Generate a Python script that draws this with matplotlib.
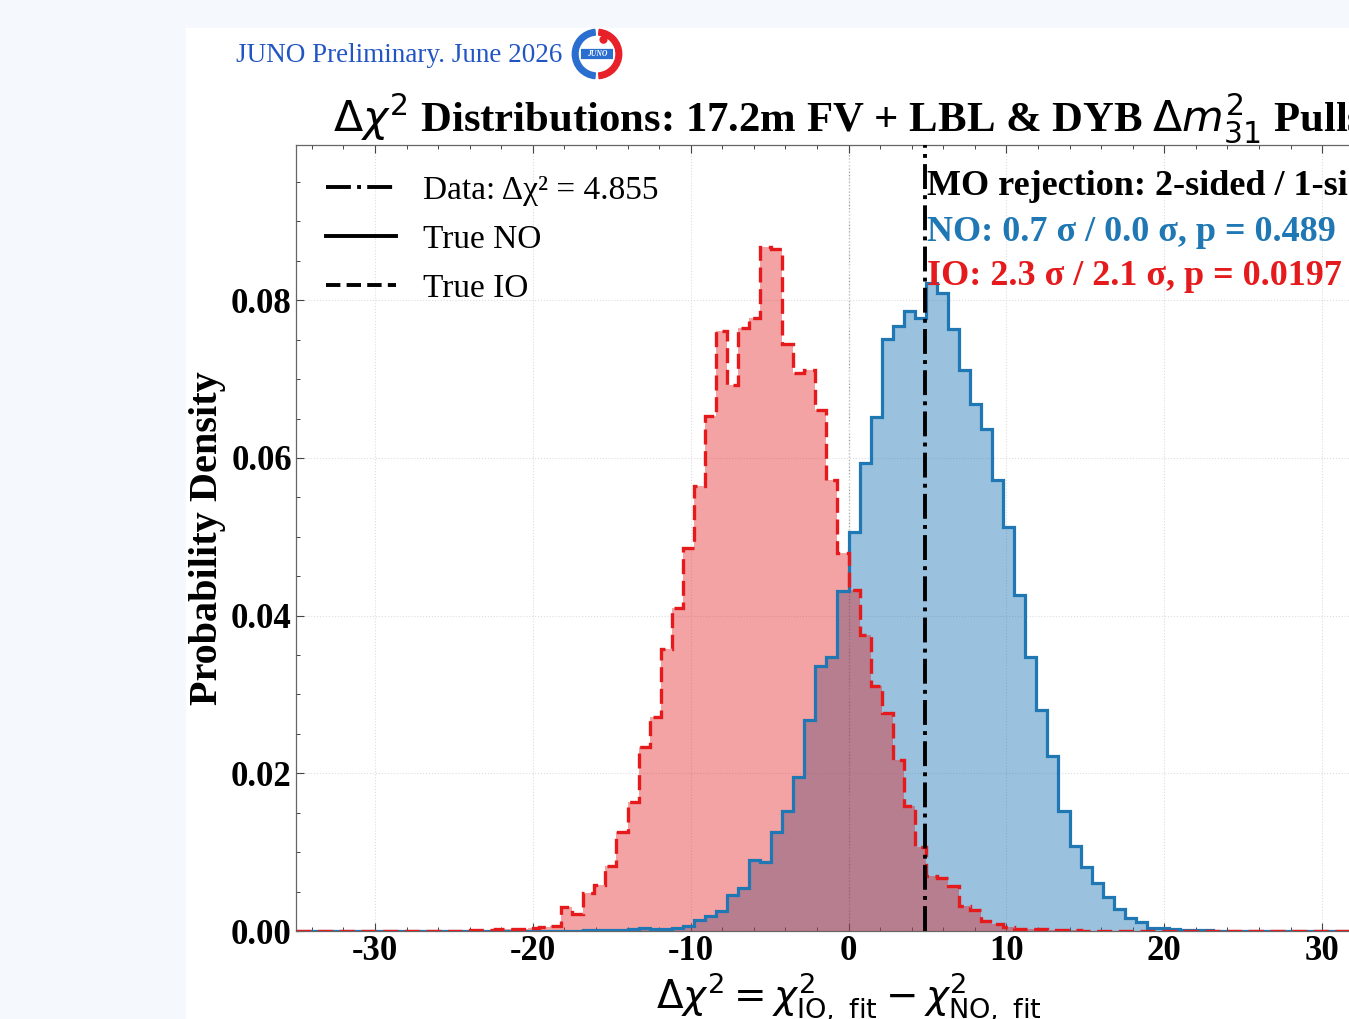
import numpy as np
import matplotlib
matplotlib.use('Agg')
import matplotlib.pyplot as plt
from matplotlib.lines import Line2D
from matplotlib.patches import Rectangle, Wedge, FancyBboxPatch, Circle
from matplotlib.ticker import MultipleLocator, FormatStrFormatter

plt.rcParams['font.family'] = ['Liberation Serif', 'DejaVu Serif']
plt.rcParams['mathtext.fontset'] = 'dejavusans'
plt.rcParams['axes.unicode_minus'] = False

# histogram binning (100 bins from -35 to 35)
x_range = (-35, 35)
n_bins = 100
bin_width = 0.7

# probability density per bin
# True NO, first listed bin starts at -17.5
no_start = -17.5
no_density = [0.00005, 0.0001, 0.0001, 0.0001, 0.0001, 0.0002, 0.0004, 0.0002, 0.0003, 0.0004,
              0.0006, 0.0014, 0.0019, 0.0025, 0.0046, 0.0055, 0.0090, 0.0088, 0.0125, 0.0152,
              0.0195, 0.0268, 0.0336, 0.0347, 0.0431, 0.0506, 0.0593, 0.0652, 0.0751, 0.0768,
              0.0787, 0.0778, 0.0822, 0.0809, 0.0763, 0.0712, 0.0668, 0.0637, 0.0572, 0.0513,
              0.0426, 0.0347, 0.0280, 0.0222, 0.0152, 0.0108, 0.0081, 0.0061, 0.0043, 0.0028,
              0.0016, 0.0011, 0.0004, 0.0004, 0.0003, 0.0001, 0.0001, 0.0001]
# True IO, first listed bin starts at -24.5
io_start = -24.5
io_density = [0.0001, 0.0001, 0.00015, 0.0002, 0.0002, 0.0003, 0.0004, 0.0005, 0.0006, 0.0030,
              0.0021, 0.0048, 0.0058, 0.0082, 0.0126, 0.0164, 0.0234, 0.0271, 0.0358, 0.0410,
              0.0486, 0.0564, 0.0653, 0.0761, 0.0692, 0.0765, 0.0778, 0.0867, 0.0865, 0.0744,
              0.0708, 0.0711, 0.0661, 0.0572, 0.0479, 0.0432, 0.0375, 0.0311, 0.0277, 0.0217,
              0.0159, 0.0106, 0.0070, 0.0067, 0.0057, 0.0032, 0.0027, 0.0013, 0.0009, 0.0005,
              0.0003, 0.0002, 0.0002, 0.0001, 0.0001, 0.0001]

data_dchi2 = 4.855
mo_lines = ['MO rejection: 2-sided / 1-sided',
            'NO: 0.7 σ / 0.0 σ, p = 0.489',
            'IO: 2.3 σ / 2.1 σ, p = 0.0197']
mo_y = [0.0934, 0.0875, 0.0819]

c_no = '#1f77b4'
c_io = '#e41a1c'

W, H = 1349, 1019
fig = plt.figure(figsize=(W / 100, H / 100), dpi=100, facecolor='#f5f8fc')
fig.patches.append(Rectangle((186 / W, 0), 1, 1 - 28 / H, transform=fig.transFigure,
                             fc='white', ec='none', zorder=-5))

ax = fig.add_axes([296 / W, 1 - 931 / H, (1401 - 296) / W, (931 - 145) / H])

edges = np.linspace(x_range[0], x_range[1], n_bins + 1)
no_centers = no_start + bin_width * (np.arange(len(no_density)) + 0.5)
io_centers = io_start + bin_width * (np.arange(len(io_density)) + 0.5)

ax.hist(no_centers, bins=edges, weights=no_density, histtype='stepfilled',
        color=c_no, alpha=0.45, lw=0, zorder=2)
ax.hist(io_centers, bins=edges, weights=io_density, histtype='stepfilled',
        color=c_io, alpha=0.4, lw=0, zorder=3)
ax.hist(no_centers, bins=edges, weights=no_density, histtype='step',
        color=c_no, lw=2.3, zorder=4)
ax.hist(io_centers, bins=edges, weights=io_density, histtype='step',
        color=c_io, lw=2.4, ls=(0, (4.5, 2.0)), zorder=5)

ax.axvline(data_dchi2, color='k', ls='-.', lw=2.8, zorder=6)
ax.axvline(0, color='#999999', ls=':', lw=0.9, zorder=1)

for txt, yy, col in zip(mo_lines, mo_y, ['black', c_no, c_io]):
    ax.text(data_dchi2 + 0.12, yy, txt, color=col, fontsize=26, fontweight='bold',
            ha='left', va='baseline', zorder=7)

ax.set_xlim(*x_range)
ax.set_ylim(0, 0.0997)
ax.xaxis.set_major_locator(MultipleLocator(10))
ax.xaxis.set_minor_locator(MultipleLocator(2))
ax.yaxis.set_major_locator(MultipleLocator(0.02))
ax.yaxis.set_minor_locator(MultipleLocator(0.005))
ax.yaxis.set_major_formatter(FormatStrFormatter('%.2f'))
ax.xaxis.set_major_formatter(FormatStrFormatter('%d'))
ax.tick_params(which='both', direction='in', top=True, right=True, color='#444444')
ax.tick_params(which='major', length=6, width=0.8, labelsize=25, pad=3)
ax.tick_params(which='minor', length=3, width=0.7)
for lab in ax.get_xticklabels() + ax.get_yticklabels():
    lab.set_fontweight('bold')
for sp in ax.spines.values():
    sp.set_color('#666666')
    sp.set_linewidth(0.9)
ax.grid(True, which='major', ls=':', color='#dddddd', lw=0.8)

ax.set_xlabel(r'$\Delta\chi^2 = \chi^2_{\mathrm{IO,\ fit}} - \chi^2_{\mathrm{NO,\ fit}}$',
              fontsize=28, labelpad=2)
ax.set_ylabel('Probability Density', fontsize=29, fontweight='bold', labelpad=4)
ax.set_title(r'$\Delta\chi^2$ Distributions: 17.2m FV + LBL & DYB $\Delta m^2_{31}$ Pulls',
             fontsize=30.8, fontweight='bold', pad=5)

handles = [Line2D([], [], color='k', ls='-.', lw=2.8),
           Line2D([], [], color='k', ls='-', lw=2.8),
           Line2D([], [], color='k', ls='--', lw=2.8)]
labels = ['Data: Δχ² = 4.855', 'True NO', 'True IO']
ax.legend(handles, labels, loc='upper left', frameon=False, fontsize=24,
          handlelength=2.1, handletextpad=0.8, labelspacing=0.56)

fig.text(236 / W, 1 - 62 / H, 'JUNO Preliminary. June 2026', fontsize=19.5,
         color='#2255c4', va='baseline')

# simple JUNO logo
lax = fig.add_axes([571 / W, 1 - 80 / H, 52 / W, 52 / H])
lax.set_xlim(-1, 1)
lax.set_ylim(-1, 1)
lax.set_aspect('equal')
lax.axis('off')
lax.add_patch(Wedge((0, 0), 0.95, 95, 265, width=0.22, color='#2a6fd0'))
lax.add_patch(Wedge((0, 0), 0.95, -85, 85, width=0.22, color='#e8202a'))
lax.add_patch(Circle((0.25, 0.55), 0.13, color='#e8202a'))
lax.add_patch(FancyBboxPatch((-0.62, -0.2), 1.24, 0.4, boxstyle='round,pad=0.02',
                             fc='#2a6fd0', ec='white', lw=0.8))
lax.text(0, 0, 'JUNO', color='white', fontsize=5.5, ha='center', va='center',
         fontstyle='italic', fontweight='bold')

fig.savefig('out.png', dpi=100, facecolor=fig.get_facecolor())
